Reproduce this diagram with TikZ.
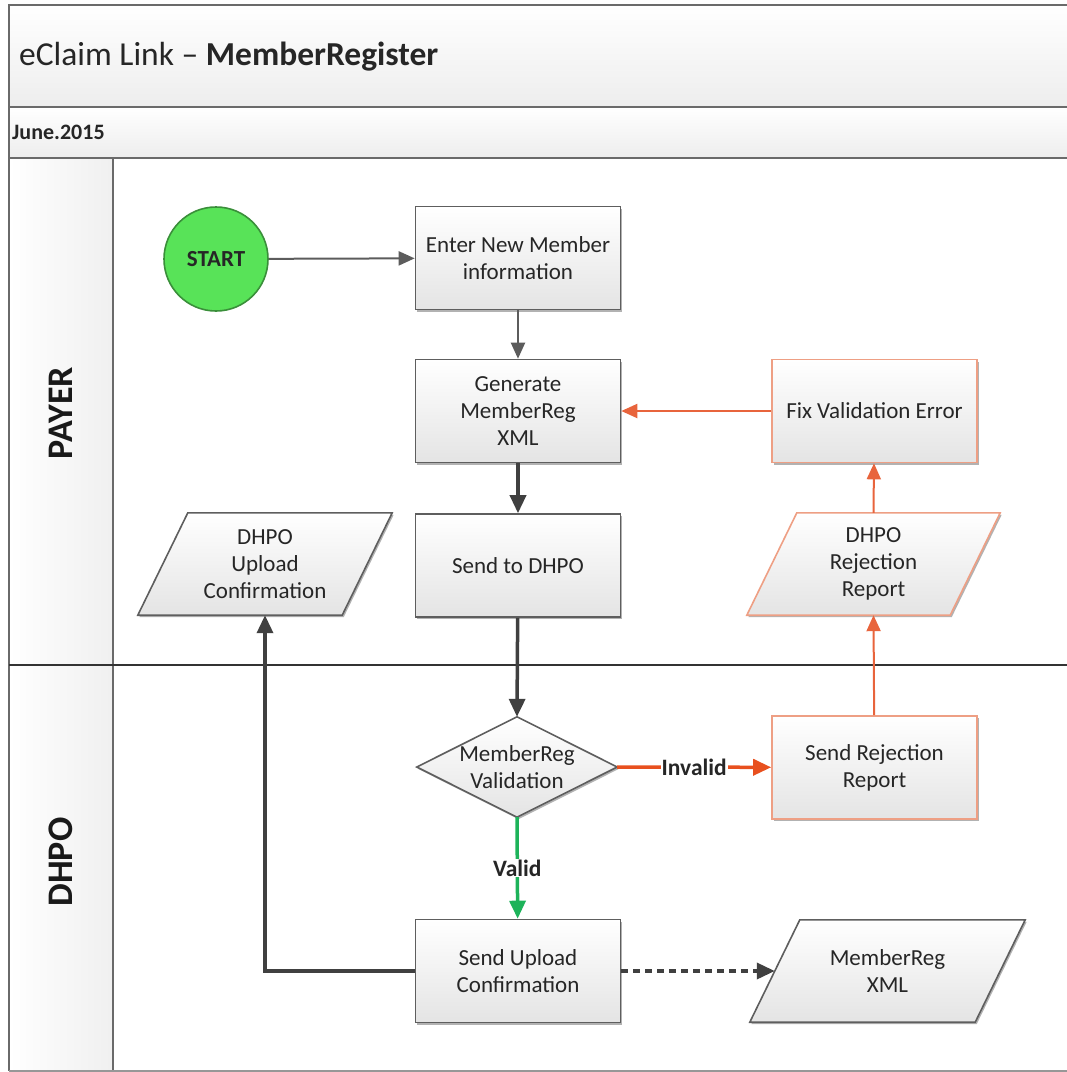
\documentclass[tikz,border=0pt]{standalone}
\usepackage{fontspec}
\setmainfont{Carlito}
\usetikzlibrary{arrows.meta,shadows,calc}
\pgfdeclarelayer{bg}
\pgfdeclarelayer{shp}
\pgfsetlayers{bg,shp,main}
\definecolor{framegray}{HTML}{6A6A6A}
\definecolor{lanesep}{HTML}{333333}
\definecolor{boxborder}{HTML}{5E5E5E}
\definecolor{boxbot}{HTML}{E4E4E4}
\definecolor{linegray}{HTML}{5C5C5C}
\definecolor{darkline}{HTML}{404040}
\definecolor{errline}{HTML}{E8643C}
\definecolor{errthick}{HTML}{E8501E}
\definecolor{errborder}{HTML}{EE9F84}
\definecolor{validgreen}{HTML}{1DB35A}
\definecolor{startfill}{HTML}{58E358}
\definecolor{startborder}{HTML}{3A8F3A}
\newcommand{\boxfont}{\fontsize{23}{27}\selectfont}
\newcommand{\lblfont}{\fontsize{23.5}{27}\selectfont\bfseries}
\begin{document}
\begin{tikzpicture}[x=1pt,y=-1pt,
  frameline/.style={draw=framegray,line width=2.5pt},
  boxshadow/.style={drop shadow={shadow xshift=1.5pt,shadow yshift=-2pt,opacity=0.3,fill=black}},
  procbox/.style={draw=boxborder,line width=1.6pt,top color=white,bottom color=boxbot,
    minimum width=205pt,minimum height=103pt,align=center,inner sep=2pt,font=\boxfont,text=black!85,boxshadow},
  errbox/.style={procbox,draw=errborder},
  paranode/.style={minimum height=102pt,inner sep=0pt},
  paratext/.style={align=center,font=\boxfont,text=black!85,inner sep=0pt},
  parashape/.style={draw=boxborder,line width=1.6pt,top color=white,bottom color=boxbot,boxshadow},
  errshape/.style={parashape,draw=errborder},
  startnode/.style={circle,draw=startborder,line width=1.6pt,fill=startfill,minimum size=104pt,
    font=\fontsize{23}{27}\selectfont\bfseries,text=black!85},
  lanelabel/.style={rotate=90,font=\fontsize{36}{42}\selectfont\bfseries,text=black!90},
  thinarr/.style={draw=linegray,line width=2pt,-{Triangle[length=16pt,width=14pt]}},
  thickarr/.style={draw=darkline,line width=3.5pt,-{Triangle[length=18pt,width=16pt]}},
  errarr/.style={draw=errline,line width=2pt,-{Triangle[length=16pt,width=14pt]}},
  errthickarr/.style={draw=errthick,line width=3.5pt,-{Triangle[length=18pt,width=16pt]}},
  validarr/.style={draw=validgreen,line width=3.5pt,-{Triangle[length=18pt,width=16pt]}},
  edgelbl/.style={fill=white,inner sep=1pt,font=\lblfont,text=black!85}
]
\useasboundingbox (0,0) rectangle (1067,1072);

% ---------- frame ----------
\begin{pgfonlayer}{bg}
  \fill[top color=white,bottom color=black!7] (9,5) rectangle (1067,107);
  \fill[top color=white,bottom color=black!7] (9,107) rectangle (1067,158);
  \fill[left color=white,right color=black!6] (9,158) rectangle (113,1071);
  \draw[frameline] (1067,5) -- (9,5) -- (9,1071);
  \draw[frameline] (9,107) -- (1067,107);
  \draw[frameline] (9,158) -- (1067,158);
  \draw[frameline] (113,158) -- (113,1071);
  \draw[draw=framegray!70,line width=2pt] (9,1071) -- (1067,1071);
  \draw[draw=lanesep,line width=1.6pt] (9,665) -- (1067,665);
\end{pgfonlayer}

\node[anchor=west,inner sep=0pt,font=\fontsize{33.5}{40}\selectfont,text=black!85] (title) at (19,57)
  {eClaim Link – \textbf{MemberRegister}};
\node[anchor=west,inner sep=0pt,font=\fontsize{22}{26}\selectfont\bfseries,text=black!85] (date) at (12,132) {June.2015};
\node[lanelabel] (payer) at (61,413) {PAYER};
\node[lanelabel] (dhpo) at (61,862) {DHPO};

% ---------- nodes ----------
\node[startnode] (start) at (216,259) {START};
\node[procbox] (enter) at (518,258) {Enter New Member\\information};
\node[procbox] (gen) at (518,411) {Generate\\MemberReg\\XML};
\node[procbox] (send) at (518,565.5) {Send to DHPO};
\node[errbox] (fix) at (874.5,411) {Fix Validation Error};

\node[paranode,minimum width=253pt] (rej) at (873.5,564) {};
\node[paranode,minimum width=254pt] (upc) at (265,564) {};
\node[paranode,minimum width=275pt] (xml) at (887.5,971) {};

\node[minimum width=200pt,minimum height=100pt,inner sep=0pt,align=center,font=\boxfont,text=black!85] (val) at (517,767)
  {MemberReg\\Validation};
\node[errbox] (srr) at (874.5,767.5) {Send Rejection\\Report};
\node[procbox] (sup) at (518,971) {Send Upload\\Confirmation};

\begin{pgfonlayer}{shp}
  \draw[errshape] (rej.south west) -- ([xshift=-50pt]rej.south east) -- (rej.north east) -- ([xshift=50pt]rej.north west) -- cycle;
  \draw[parashape] (upc.south west) -- ([xshift=-50pt]upc.south east) -- (upc.north east) -- ([xshift=50pt]upc.north west) -- cycle;
  \draw[parashape] (xml.south west) -- ([xshift=-50pt]xml.south east) -- (xml.north east) -- ([xshift=50pt]xml.north west) -- cycle;
  \draw[parashape] (val.north) -- (val.east) -- (val.south) -- (val.west) -- cycle;
\end{pgfonlayer}

\node[paratext] (rejtext) at (rej.center) {DHPO\\Rejection\\Report};
\node[paratext] (upctext) at (upc.center) {DHPO\\Upload\\Confirmation};
\node[paratext] (xmltext) at (xml.center) {MemberReg\\XML};

% ---------- connectors ----------
\draw[thinarr] (start) -- (enter);
\draw[thinarr] (enter) -- (gen);
\draw[thickarr] (gen) -- (send);
\draw[thickarr] (send) -- (val.north);
\draw[errthickarr] (val.east) -- node[edgelbl] {Invalid} (srr);
\draw[validarr] (val.south) -- node[edgelbl] {Valid} (sup);
\draw[errarr] (srr) -- (rej.south);
\draw[errarr] (rej.north) -- (fix);
\draw[errarr] (fix) -- (gen);
\draw[thickarr] (sup.west) -| (upc.south);
\draw[thickarr,dash pattern=on 7pt off 5pt] (sup.east) -- ([xshift=25pt]xml.west);
\end{tikzpicture}
\end{document}
